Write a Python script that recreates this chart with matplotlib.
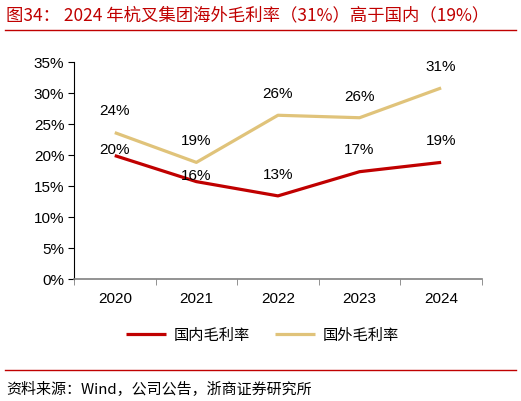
import numpy as np
from matplotlib import pyplot as plt
from matplotlib.ticker import FuncFormatter, FixedLocator

years = ['2020', '2021', '2022', '2023', '2024']
domestic = [19.9, 15.7, 13.4, 17.3, 18.8]
overseas = [23.6, 18.8, 26.4, 26.0, 30.8]
domestic_labels = ['20%', '16%', '13%', '17%', '19%']
overseas_labels = ['24%', '19%', '26%', '26%', '31%']

red = '#C00000'
gold = '#E0C37A'
cjk = ['Noto Sans CJK SC', 'DejaVu Sans']
num = ['Liberation Sans', 'DejaVu Sans']

plt.rcParams['font.family'] = num

fig = plt.figure(figsize=(5.21, 4.02), dpi=100)
ax = fig.add_axes([0.142, 0.3035, 0.783, 0.54])

x = np.arange(len(years))
ax.plot(x, domestic, color=red, lw=2.3, label='国内毛利率', solid_capstyle='butt')
ax.plot(x, overseas, color=gold, lw=2.3, label='国外毛利率', solid_capstyle='butt')

dom_off = [5, 5, 16, 16, 16]
for i in range(len(years)):
    ax.annotate(domestic_labels[i], (x[i], domestic[i]), xytext=(0, dom_off[i]),
                textcoords='offset points', ha='center', va='center', fontsize=11)
    ax.annotate(overseas_labels[i], (x[i], overseas[i]), xytext=(0, 16),
                textcoords='offset points', ha='center', va='center', fontsize=11)

ax.set_xlim(-0.5, 4.5)
ax.set_ylim(0, 35)
ax.set_yticks(np.arange(0, 36, 5))
ax.yaxis.set_major_formatter(FuncFormatter(lambda v, p: '%d%%' % v))
ax.set_xticks(x)
ax.set_xticklabels(years)
ax.xaxis.set_minor_locator(FixedLocator(np.arange(-0.5, 4.6, 1)))
ax.tick_params(axis='x', which='major', length=0, pad=9, labelsize=11)
ax.tick_params(axis='x', which='minor', length=4, color='#808080', direction='out')
ax.tick_params(axis='y', length=4, labelsize=11, pad=3)
for s in ['top', 'right']:
    ax.spines[s].set_visible(False)
ax.spines['bottom'].set_color('#808080')
ax.spines['bottom'].set_linewidth(1.2)
ax.spines['left'].set_color('black')

leg = ax.legend(loc='center', bbox_to_anchor=(0.462, -0.255), ncol=2, frameon=False,
                prop={'family': cjk, 'size': 11}, handlelength=2.6, columnspacing=1.7,
                handletextpad=0.5)

fig.text(0.012, 0.963, '图34： 2024 年杭叉集团海外毛利率（31%）高于国内（19%）', color=red,
         fontsize=12.5, family=cjk, va='center', ha='left')
fig.add_artist(plt.Line2D([0.01, 0.99], [0.923, 0.923], color=red, lw=1.0))
fig.add_artist(plt.Line2D([0.01, 0.99], [0.077, 0.077], color=red, lw=1.0))
fig.text(0.012, 0.032, '资料来源：Wind，公司公告，浙商证券研究所', color='black',
         fontsize=10.8, family=cjk, va='center', ha='left')

fig.savefig('out.png', dpi=100)
